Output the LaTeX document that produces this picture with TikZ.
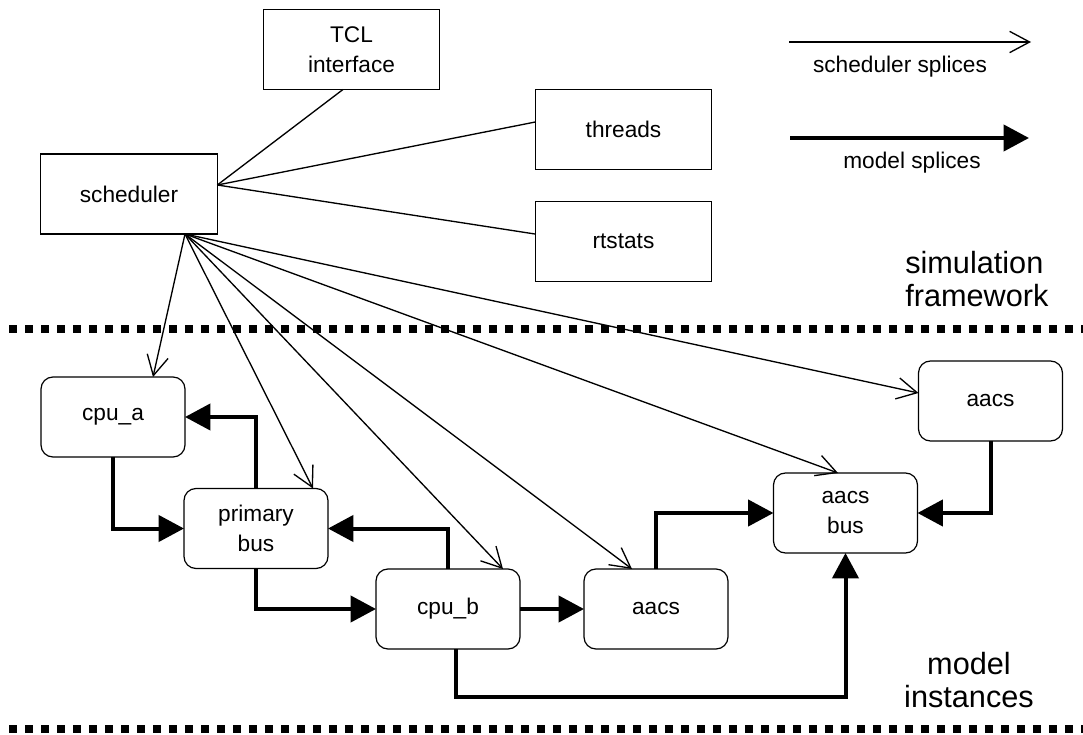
\documentclass[tikz,border=0pt]{standalone}
\usepackage{fontspec}
\setmainfont{Liberation Sans}
\usetikzlibrary{arrows.meta,calc}
\newcommand{\dgboxfont}{\fontsize{17}{22.5}\selectfont}
\newcommand{\dgbigfont}{\fontsize{23}{24.5}\selectfont}
\begin{document}
\begin{tikzpicture}[x=0.75pt,y=-0.75pt,
  sqbox/.style={draw,line width=0.9pt,minimum width=132.5pt,minimum height=60pt,
    inner sep=0pt,outer sep=0pt,font=\dgboxfont,align=center},
  rdbox/.style={sqbox,rounded corners=9pt,minimum width=108pt},
  schedline/.style={line width=1pt},
  schedarrow/.style={line width=1pt,-{Straight Barb[length=15pt,width=16pt]}},
  modelarrow/.style={line width=3pt,-{Triangle[length=19pt,width=19.5pt]}},
  divider/.style={line width=6pt,dash pattern=on 6pt off 6pt},
  biglabel/.style={font=\dgbigfont,inner sep=0pt}
]
\fill[white] (0,0) rectangle (1083,735);
\useasboundingbox (0,0) rectangle (1083,735);

% framework boxes
\node[sqbox] (tcl) at (351.5,49.5) {TCL\\interface};
\node[sqbox] (sched) at (129,194) {scheduler};
\node[sqbox] (threads) at (623.5,129.5) {threads};
\node[sqbox] (rtstats) at (623.5,241.5) {rtstats};

% model boxes
\node[rdbox] (cpua) at (113,417) {cpu\_a};
\node[rdbox] (pbus) at (256,528.5) {primary\\bus};
\node[rdbox] (cpub) at (448,609) {cpu\_b};
\node[rdbox] (aacsa) at (656,609) {aacs};
\node[rdbox] (abus) at (845.5,513) {aacs\\bus};
\node[rdbox] (aacsb) at (990.5,401) {aacs};

% scheduler links
\draw[schedline] ([yshift=6.75pt]sched.east) -- ([xshift=-6.4pt]tcl.south);
\draw[schedline] ([yshift=6.75pt]sched.east) -- ([yshift=5.6pt]threads.west);
\draw[schedline] ([yshift=6.75pt]sched.east) -- ([yshift=5.6pt]rtstats.west);

% scheduler splices
\draw[schedarrow] ([xshift=42pt]sched.south) -- ([xshift=30pt]cpua.north);
\draw[schedarrow] ([xshift=42pt]sched.south) -- ([xshift=-11.25pt]pbus.north east);
\draw[schedarrow] ([xshift=42pt]sched.south) -- ([xshift=-12.75pt]cpub.north east);
\draw[schedarrow] ([xshift=42pt]sched.south) -- ([xshift=-18pt]aacsa.north);
\draw[schedarrow] ([xshift=42pt]sched.south) -- ([xshift=-5.6pt]abus.north);
\draw[schedarrow] ([xshift=42pt]sched.south) -- ([yshift=6pt]aacsb.west);

% model splices
\draw[modelarrow] (cpua.south) |- (pbus.west);
\draw[modelarrow] (pbus.north) |- (cpua.east);
\draw[modelarrow] (cpub.north) |- (pbus.east);
\draw[modelarrow] (pbus.south) |- (cpub.west);
\draw[modelarrow] (cpub.east) -- (aacsa.west);
\draw[modelarrow] (aacsa.north) |- (abus.west);
\draw[modelarrow] (aacsb.south) |- (abus.east);
\draw[modelarrow] ([xshift=6pt]cpub.south) -- ++(0,48) -| (abus.south);

% legend
\coordinate (la) at (789,42);
\coordinate (lb) at (1031,42);
\draw[schedarrow] (la) -- (lb);
\node[font=\dgboxfont] (lt1) at (900,67) {scheduler splices};
\coordinate (lc) at (790,138);
\coordinate (ld) at (1029,138);
\draw[modelarrow] (lc) -- (ld);
\node[font=\dgboxfont] (lt2) at (912,163) {model splices};

% dividers
\coordinate (d1a) at (9,329);
\coordinate (d1b) at (1083,329);
\draw[divider] (d1a) -- (d1b);
\coordinate (d2a) at (9,729);
\coordinate (d2b) at (1083,729);
\draw[divider] (d2a) -- (d2b);

% region labels
\node[biglabel,align=left,anchor=west] (simfw) at (905,279) {simulation\\framework};
\node[biglabel,align=center] (modinst) at (969,680) {model\\instances};
\end{tikzpicture}
\end{document}
